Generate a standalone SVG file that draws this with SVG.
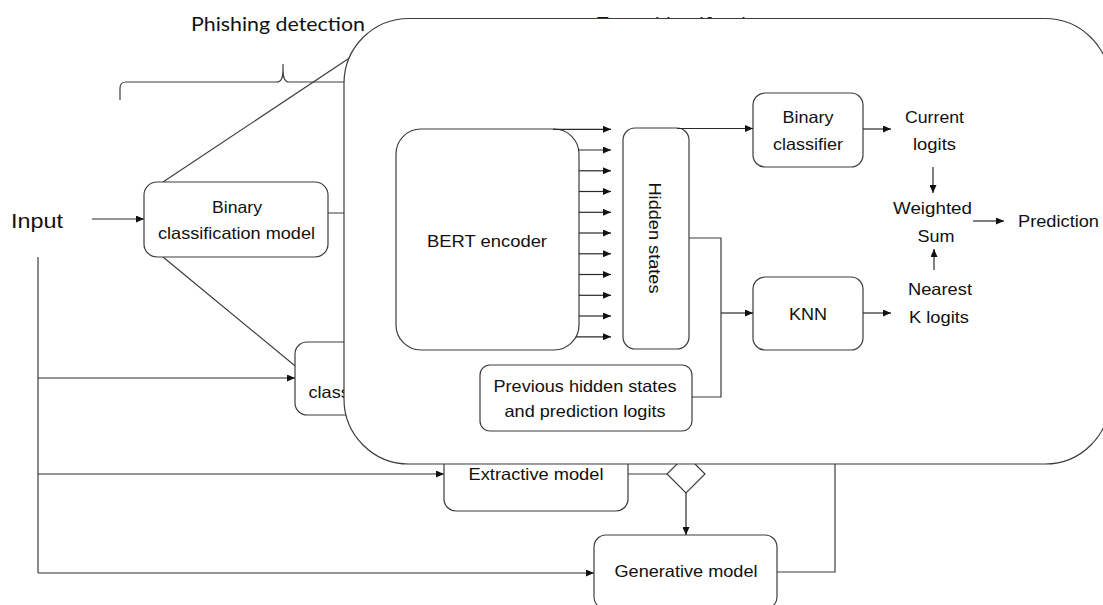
<svg xmlns="http://www.w3.org/2000/svg" width="1103" height="605" viewBox="0 0 1103 605">
  <style>
    .box { fill: #ffffff; stroke: #3c3c3c; stroke-width: 1.2; }
    .ln { fill: none; stroke: #3c3c3c; stroke-width: 1.2; }
    .arw { fill: none; stroke: #2a2a2a; stroke-width: 1.2; marker-end: url(#arr); }
    .t { font-family: "Liberation Sans", Arial, sans-serif; font-size: 16.5px; fill: #111111; text-anchor: middle; }
    .hdr { font-family: Lato, "Open Sans", sans-serif; font-size: 19.5px; fill: #111111; }
  </style>
  <defs>
    <marker id="arr" viewBox="0 0 8 7" refX="8" refY="3.5" markerWidth="8" markerHeight="7" markerUnits="userSpaceOnUse" orient="auto">
      <path d="M0,0 L8,3.5 L0,7 z" fill="#111111"/>
    </marker>
  </defs>
  <rect width="1103" height="605" fill="#ffffff"/>

  <!-- stage headings and the brace under the first one -->
  <g id="headings">
    <text class="hdr" x="191" y="31" textLength="174" lengthAdjust="spacingAndGlyphs">Phishing detection</text>
    <text class="hdr" x="597" y="31">Target identification</text>
    <path class="ln" d="M120,100 L120,88 Q120,82 126,82 L277,82 Q283,82 283,70 L283,64 M283,70 Q283,82 289,82 L440,82 Q446,82 446,88 L446,100"/>
  </g>

  <!-- connectors that sit underneath the expanded detail panel -->
  <g id="connectors-back">
    <path class="ln" d="M163,182 L372,43"/>
    <path class="ln" d="M163,257 L357,417"/>
    <path class="ln" d="M328,213 L362,213"/>
    <path class="ln" d="M38,257 L38,573"/>
    <path class="arw" d="M92,219 L144,219"/>
    <path class="arw" d="M38,378 L295,378"/>
    <path class="arw" d="M38,474 L444,474"/>
    <path class="arw" d="M38,573 L594,573"/>
    <path class="ln" d="M628,474 L667,474"/>
    <path class="arw" d="M686,493 L686,535"/>
    <path class="ln" d="M777,572 L835,572 L835,440"/>
  </g>

  <g id="input">
    <text x="11" y="228" font-family="Liberation Sans, Arial, sans-serif" font-size="21" fill="#111111" textLength="52" lengthAdjust="spacingAndGlyphs">Input</text>
  </g>

  <g id="binary-classification-model">
    <rect class="box" x="144" y="182" width="184" height="75" rx="13"/>
    <text class="t" x="237" y="213" textLength="50" lengthAdjust="spacingAndGlyphs">Binary</text>
    <text class="t" x="236.5" y="239" textLength="157" lengthAdjust="spacingAndGlyphs">classification model</text>
  </g>

  <g id="classification-model">
    <rect class="box" x="295" y="342" width="184" height="73" rx="12"/>
    <text class="t" x="387" y="398" textLength="157" lengthAdjust="spacingAndGlyphs">classification model</text>
  </g>

  <g id="extractive-model">
    <rect class="box" x="444" y="437" width="184" height="74" rx="12"/>
    <text class="t" x="536" y="480" textLength="135" lengthAdjust="spacingAndGlyphs">Extractive model</text>
  </g>

  <g id="decision">
    <path class="box" d="M686,455 L705,474 L686,493 L667,474 Z"/>
  </g>

  <!-- expanded detail panel -->
  <g id="panel">
    <rect class="box" x="344" y="18.5" width="766" height="445.5" rx="65"/>
  </g>

  <g id="bert-encoder">
    <rect class="box" x="396" y="129" width="183" height="221" rx="25"/>
    <text class="t" x="487" y="247" textLength="120" lengthAdjust="spacingAndGlyphs">BERT encoder</text>
  </g>

  <g id="hidden-states">
    <rect class="box" x="623" y="128" width="66" height="221" rx="12"/>
    <text class="t" transform="translate(649,238) rotate(90)" x="0" y="0" textLength="111" lengthAdjust="spacingAndGlyphs">Hidden states</text>
  </g>

  <g id="previous-states">
    <rect class="box" x="480" y="365" width="212" height="66" rx="10"/>
    <text class="t" x="585" y="392" textLength="183" lengthAdjust="spacingAndGlyphs">Previous hidden states</text>
    <text class="t" x="585" y="417" textLength="161" lengthAdjust="spacingAndGlyphs">and prediction logits</text>
  </g>

  <g id="binary-classifier">
    <rect class="box" x="753" y="93" width="110" height="74" rx="12"/>
    <text class="t" x="808" y="123" textLength="51" lengthAdjust="spacingAndGlyphs">Binary</text>
    <text class="t" x="808" y="150" textLength="70" lengthAdjust="spacingAndGlyphs">classifier</text>
  </g>

  <g id="knn">
    <rect class="box" x="753" y="277" width="110" height="73" rx="12"/>
    <text class="t" x="808" y="320" textLength="38" lengthAdjust="spacingAndGlyphs">KNN</text>
  </g>

  <g id="current-logits">
    <text class="t" x="934.5" y="123" textLength="59" lengthAdjust="spacingAndGlyphs">Current</text>
    <text class="t" x="934.5" y="150" textLength="43" lengthAdjust="spacingAndGlyphs">logits</text>
  </g>

  <g id="weighted-sum">
    <text class="t" x="932.5" y="214" textLength="79" lengthAdjust="spacingAndGlyphs">Weighted</text>
    <text class="t" x="936" y="242" textLength="37" lengthAdjust="spacingAndGlyphs">Sum</text>
  </g>

  <g id="nearest-logits">
    <text class="t" x="940" y="295" textLength="64" lengthAdjust="spacingAndGlyphs">Nearest</text>
    <text class="t" x="939" y="323" textLength="60" lengthAdjust="spacingAndGlyphs">K logits</text>
  </g>

  <g id="prediction">
    <text x="1018" y="227" font-family="Liberation Sans, Arial, sans-serif" font-size="16.5" fill="#111111" textLength="81" lengthAdjust="spacingAndGlyphs">Prediction</text>
  </g>

  <!-- connectors inside the panel -->
  <g id="connectors">
    <path class="arw" d="M553,129.3 L611,129.3"/>
    <path class="arw" d="M578,150 L611,150"/>
    <path class="arw" d="M579,170.8 L611,170.8"/>
    <path class="arw" d="M579,191.5 L611,191.5"/>
    <path class="arw" d="M579,212.3 L611,212.3"/>
    <path class="arw" d="M579,233 L611,233"/>
    <path class="arw" d="M579,253.8 L611,253.8"/>
    <path class="arw" d="M579,274.5 L611,274.5"/>
    <path class="arw" d="M579,295.3 L611,295.3"/>
    <path class="arw" d="M579,316 L611,316"/>
    <path class="arw" d="M576,336.8 L611,336.8"/>
    <path class="arw" d="M677,128.5 L753,128.5"/>
    <path class="ln" d="M689,238 L721,238 L721,397 L692,397"/>
    <path class="arw" d="M721,313 L753,313"/>
    <path class="arw" d="M863,129 L891,129"/>
    <path class="arw" d="M863,313 L891,313"/>
    <path class="arw" d="M933,167 L933,193"/>
    <path class="arw" d="M934,270 L934,249"/>
    <path class="arw" d="M973,221 L1004,221"/>
  </g>

  <g id="generative-model">
    <rect class="box" x="594" y="535" width="183" height="74" rx="12"/>
    <text class="t" x="686" y="577" textLength="143" lengthAdjust="spacingAndGlyphs">Generative model</text>
  </g>
</svg>
